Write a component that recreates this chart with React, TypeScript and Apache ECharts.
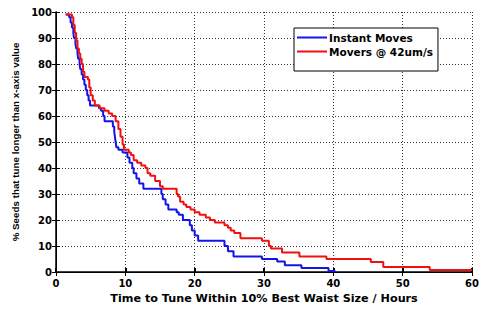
import React, { useEffect, useRef } from "react";
import * as echarts from "echarts";

const xTicks = [0, 10, 20, 30, 40, 50, 60];
const yTicks = [0, 10, 20, 30, 40, 50, 60, 70, 80, 90, 100];

const seriesNames = ["Instant Moves", "Movers @ 42um/s"];

// [hours, % seeds still untuned] — value holds from this x until the next point
const instantMoves: [number, number][] = [
  [1.4, 99], [1.9, 98], [2.1, 96], [2.3, 94], [2.5, 92], [2.6, 90], [2.8, 88], [2.9, 86],
  [3.1, 84], [3.2, 82], [3.4, 80], [3.5, 78], [3.7, 76], [3.9, 74], [4.1, 72], [4.3, 70],
  [4.5, 68], [4.7, 66], [4.9, 64], [6.2, 63], [6.5, 62], [6.8, 60], [7.0, 58], [8.2, 56],
  [8.4, 54], [8.5, 52], [8.6, 50], [8.7, 48], [9.0, 47], [9.6, 46], [10.3, 44], [10.6, 42],
  [11.0, 40], [11.2, 38], [11.6, 36], [12.0, 34], [12.6, 32], [15.2, 30], [15.4, 28],
  [15.8, 26], [16.2, 24], [17.4, 23], [17.7, 22], [18.3, 20], [19.3, 18], [19.6, 16],
  [20.0, 14], [20.5, 12], [24.3, 10], [24.8, 8], [25.6, 6], [29.7, 5], [31.9, 4],
  [33.0, 2.6], [35.4, 1.5], [39.3, 0.4], [40.3, 0.4],
];

const moversAt42: [number, number][] = [
  [1.4, 99], [2.3, 98], [2.5, 95], [2.7, 92], [2.9, 89], [3.1, 86], [3.3, 84], [3.5, 82],
  [3.7, 80], [3.9, 77], [4.1, 75], [4.6, 74], [4.8, 71], [5.0, 68], [5.3, 66], [5.6, 64],
  [6.3, 63], [7.0, 62], [7.6, 61], [8.1, 60], [8.6, 58], [9.0, 55], [9.3, 52], [9.6, 49],
  [9.8, 47], [10.5, 46], [10.8, 45], [11.2, 43], [11.7, 42], [12.3, 41], [12.9, 40],
  [13.2, 38], [13.6, 37], [14.3, 35], [15.0, 33], [15.4, 32], [17.4, 30], [17.6, 29],
  [17.9, 27], [18.4, 26], [18.8, 25], [19.4, 24], [20.0, 23], [20.7, 22], [21.6, 21],
  [22.2, 20], [22.9, 19], [24.3, 18], [24.8, 17], [25.2, 16], [25.7, 15], [26.6, 13],
  [29.7, 12], [30.7, 10], [31.0, 9], [32.6, 7.5], [35.1, 6], [39.0, 5], [45.4, 3.8],
  [47.2, 1.9], [53.9, 0.8], [60, 0.8],
];

const xTitle = "Time to Tune Within 10% Best Waist Size / Hours";
const yTitle = "% Seeds that tune longer than x-axis value";

export default function App() {
  const ref = useRef<HTMLDivElement>(null);
  useEffect(() => {
    if (!ref.current) return;
    const chart = echarts.init(ref.current, undefined, { renderer: "svg" });
    const font = "'DejaVu Sans', Arial, sans-serif";
    const tickLabel = { fontFamily: font, fontWeight: "bold" as const, fontSize: 10, color: "#000" };
    const gridLine = { show: true, lineStyle: { color: "#333", type: [1, 2], width: 1, opacity: 1 } };
    const axisLine = { show: true, onZero: false, lineStyle: { color: "#000", width: 1.5 } };
    chart.setOption({
      animation: false,
      backgroundColor: "#fff",
      grid: { left: 56, right: 4, top: 12, bottom: 31 },
      legend: {
        orient: "vertical",
        left: 294, top: 28,
        backgroundColor: "#fff",
        borderColor: "#000", borderWidth: 1,
        padding: [4, 5, 14, 3],
        itemGap: 3,
        itemWidth: 30, itemHeight: 2,
        icon: "rect",
        data: seriesNames,
        textStyle: { fontFamily: font, fontWeight: "bold", fontSize: 10.5, color: "#000", padding: [0, 0, 0, -3] },
      },
      xAxis: [
        {
          type: "value", min: 0, max: 60, interval: 10,
          name: xTitle, nameLocation: "middle", nameGap: 21,
          nameTextStyle: { fontFamily: font, fontWeight: "bold", fontSize: 11.2, color: "#000" },
          axisLine, axisTick: { show: true, inside: true, length: 4, lineStyle: { color: "#000", width: 2 } },
          axisLabel: { ...tickLabel, margin: 6, formatter: (v: number) => (xTicks.includes(v) ? String(v) : "") },
          splitLine: gridLine,
        },
        {
          type: "value", min: 0, max: 60, interval: 10, position: "top",
          axisLine: { show: true, lineStyle: { color: "#000", width: 1 } },
          axisTick: { show: true, inside: true, length: 4, lineStyle: { color: "#000", width: 1 } },
          axisLabel: { show: false }, splitLine: { show: false },
        },
      ],
      yAxis: [
        {
          type: "value", min: 0, max: 100, interval: 10,
          name: yTitle, nameLocation: "middle", nameGap: 26,
          nameTextStyle: { fontFamily: "Arial, 'Liberation Sans', sans-serif", fontWeight: "bold", fontSize: 9.8, color: "#000" },
          axisLine, axisTick: { show: true, inside: true, length: 4, lineStyle: { color: "#000", width: 1 } },
          axisLabel: { ...tickLabel, margin: 4, formatter: (v: number) => (yTicks.includes(v) ? String(v) : "") },
          splitLine: gridLine,
        },
        {
          type: "value", min: 0, max: 100, interval: 10, position: "right",
          axisLine: { show: true, lineStyle: { color: "#000", width: 1 } },
          axisTick: { show: true, inside: true, length: 4, lineStyle: { color: "#000", width: 1 } },
          axisLabel: { show: false }, splitLine: { show: false },
        },
      ],
      series: [
        {
          name: seriesNames[0], type: "line", step: "end", data: instantMoves,
          symbol: "none", lineStyle: { color: "#1414e6", width: 2 }, itemStyle: { color: "#1414e6" },
          z: 3,
        },
        {
          name: seriesNames[1], type: "line", step: "end", data: moversAt42,
          symbol: "none", lineStyle: { color: "#f01010", width: 2 }, itemStyle: { color: "#f01010" },
          z: 4,
        },
      ],
    });
    return () => chart.dispose();
  }, []);
  return <div ref={ref} style={{ position: "fixed", left: 0, top: 0, width: 482, height: 309 }} />;
}
